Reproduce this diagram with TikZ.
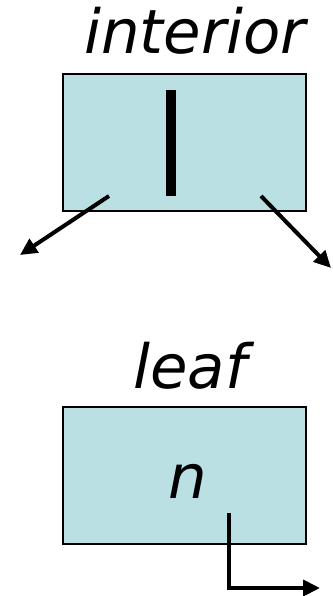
\documentclass[tikz,border=0pt]{standalone}
\usepackage{fontspec}
\setmainfont{DejaVu Sans}
\usetikzlibrary{arrows.meta}
\definecolor{nodefill}{HTML}{BAE0E3}
\begin{document}
\begin{tikzpicture}[x=1pt,y=-1pt,
  box/.style={draw=black,line width=2.2pt,fill=nodefill,minimum width=243pt,minimum height=137pt,inner sep=0pt},
  lbl/.style={font=\fontsize{61}{63}\selectfont\itshape,anchor=base,inner sep=0pt},
  ptr/.style={line width=4pt,-{Triangle[length=17pt,width=16pt]}}]
\useasboundingbox (0,0) rectangle (332,596);
\node[lbl] (tint) at (195,54) {interior};
\node[box] (int) at (184.5,142.5) {};
\fill (166,90) rectangle (176,196);
\coordinate (l0) at (109,196);
\coordinate (l1) at (20,255);
\coordinate (r0) at (261,196);
\coordinate (r1) at (331,268);
\draw[ptr] (l0) -- (l1);
\draw[ptr] (r0) -- (r1);
\node[lbl] (tleaf) at (190,388) {leaf};
\node[box] (leaf) at (184.5,475.5) {};
\node[lbl] (n) at (188,498) {n};
\coordinate (p0) at (229,513);
\coordinate (p1) at (320,588);
\draw[ptr] (p0) |- (p1);
\end{tikzpicture}
\end{document}
